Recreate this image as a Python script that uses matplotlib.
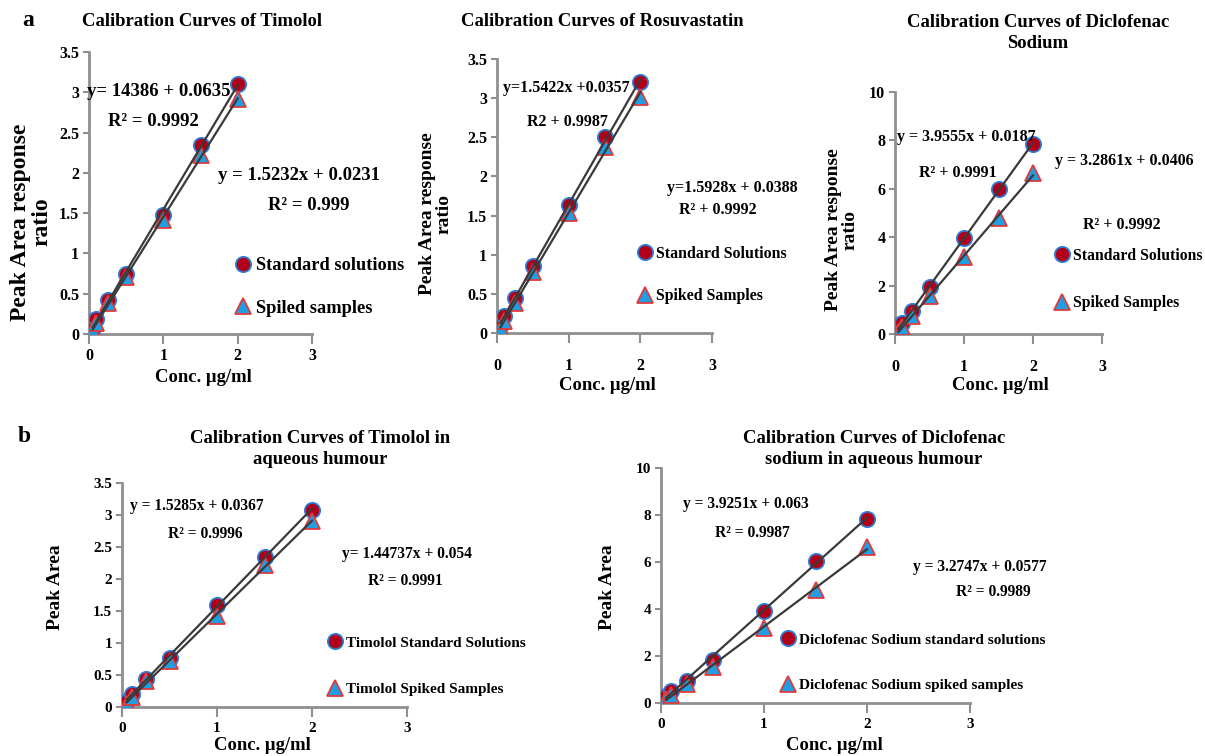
import matplotlib
matplotlib.use("Agg")
import matplotlib.pyplot as plt
import numpy as np

plt.rcParams['font.family'] = ['Liberation Serif', 'DejaVu Serif']
plt.rcParams['font.weight'] = 'bold'

# concentrations (ug/ml) shared by all curves
conc = [0.05, 0.1, 0.25, 0.5, 1, 1.5, 2]

# panel a - peak area response ratio
tim_std = [0.08, 0.18, 0.42, 0.75, 1.48, 2.35, 3.1]
tim_spk = [0.04, 0.14, 0.38, 0.71, 1.41, 2.22, 2.92]
ros_std = [0.1, 0.22, 0.45, 0.85, 1.63, 2.5, 3.2]
ros_spk = [0.05, 0.15, 0.38, 0.78, 1.53, 2.38, 3.02]
dic_std = [0.2, 0.45, 0.95, 1.95, 3.95, 6.0, 7.85]
dic_spk = [0.1, 0.3, 0.75, 1.55, 3.2, 4.8, 6.65]

# panel b - aqueous humour
aq_tim_std = [0.1, 0.2, 0.43, 0.77, 1.6, 2.35, 3.08]
aq_tim_spk = [0.05, 0.15, 0.4, 0.72, 1.42, 2.22, 2.9]
aq_dic_std = [0.3, 0.5, 0.95, 1.85, 3.9, 6.05, 7.85]
aq_dic_spk = [0.15, 0.35, 0.8, 1.55, 3.2, 4.8, 6.65]

W, H = 1205, 756
fig = plt.figure(figsize=(W / 100, H / 100), dpi=100)
fig.patch.set_facecolor('white')

GREY = '#8f8f8f'


def box(l, t, r, b):
    return [l / W, 1 - b / H, (r - l) / W, (b - t) / H]


def ftxt(x, y, s, size, ha='left', **kw):
    fig.text(x / W, 1 - y / H, s, fontsize=size, ha=ha, va='center',
             fontweight='bold', **kw)


def draw_panel(rect, std, spk, ymax, ystep, tsize, xpad, leg, labels):
    ax = fig.add_axes(box(*rect))
    # trendlines (least squares, as in the spreadsheet)
    xs = np.array([conc[0], conc[-1]])
    for ys in (std, spk):
        k, b = np.polyfit(conc, ys, 1)
        ax.plot(xs, k * xs + b, color='#3a3a3a', lw=1.6, zorder=4)
    h1, = ax.plot(conc, std, 'o', ms=11, mfc='#b0001a', mec='#2f7fd8',
                  mew=1.3, ls='none', zorder=3)
    h2, = ax.plot(conc, spk, '^', ms=11, mfc='#1f9ee3', mec='#e23a3a',
                  mew=1.3, ls='none', zorder=3)
    ax.set_xlim(0, 3)
    ax.set_ylim(0, ymax)
    ax.set_xticks([0, 1, 2, 3])
    ax.set_yticks(np.arange(0, ymax + 0.001, ystep))
    ax.yaxis.set_major_formatter(matplotlib.ticker.FormatStrFormatter('%g'))
    for s in ('top', 'right'):
        ax.spines[s].set_visible(False)
    for s in ('left', 'bottom'):
        ax.spines[s].set_color(GREY)
        ax.spines[s].set_linewidth(2)
    ax.tick_params(axis='y', length=4, width=1.5, color=GREY, pad=3,
                   labelsize=tsize)
    ax.tick_params(axis='x', length=7, width=1.5, color=GREY, pad=xpad,
                   labelsize=tsize)
    for t in ax.get_xticklabels() + ax.get_yticklabels():
        t.set_fontweight('bold')
    ax.patch.set_alpha(0)
    # legend on the right of each plot
    mx, y1, y2, fs = leg
    em = fs * 100 / 72
    ax.legend([h1, h2], labels, loc='center left',
              bbox_to_anchor=((mx - 0.4 * em) / W, 1 - (y1 + y2) / 2 / H),
              bbox_transform=fig.transFigure, frameon=False,
              handlelength=0.8, handletextpad=0.3, borderpad=0,
              borderaxespad=0,
              labelspacing=(y2 - y1) / em - 1.25,
              prop={'size': fs, 'weight': 'bold'})
    return ax


# ---- row a ----
draw_panel((89, 52, 312, 334), tim_std, tim_spk, 3.5, 0.5, 11.5, 3,
           (243, 263, 311, 13.2), ['Standard solutions', 'Spiled samples'])
draw_panel((497, 59, 712, 333), ros_std, ros_spk, 3.5, 0.5, 11.5, 11,
           (645, 252, 298, 11.4), ['Standard Solutions', 'Spiked Samples'])
draw_panel((895, 92, 1102, 334), dic_std, dic_spk, 10, 2, 11.5, 11,
           (1062, 254, 305, 11.3), ['Standard Solutions', 'Spiked Samples'])

# ---- row b ----
draw_panel((122, 483, 407, 707), aq_tim_std, aq_tim_spk, 3.5, 0.5, 11, 4,
           (335, 640, 692, 11), ['Timolol Standard Solutions', 'Timolol Spiked Samples'])
draw_panel((661, 468, 970, 703), aq_dic_std, aq_dic_spk, 10, 2, 11, 4,
           (788, 637, 688, 11),
           ['Diclofenac Sodium standard solutions', 'Diclofenac Sodium spiked samples'])

# panel letters
ftxt(22, 20, 'a', 17)
ftxt(18, 437, 'b', 17)

# titles
ftxt(202, 22, 'Calibration Curves of Timolol', 13.4, ha='center')
ftxt(602, 21, 'Calibration Curves of Rosuvastatin', 13.4, ha='center')
ftxt(1038, 33, 'Calibration Curves of Diclofenac\nSodium', 13.4, ha='center',
     linespacing=1.3)
ftxt(320, 449, 'Calibration Curves of Timolol in\naqueous humour', 13.4,
     ha='center', linespacing=1.3)
ftxt(874, 449, 'Calibration Curves of Diclofenac\nsodium in aqueous humour', 13.4,
     ha='center', linespacing=1.3)

# axis labels
ftxt(31, 222, 'Peak Area response\nratio', 17, ha='center', rotation=90,
     linespacing=1.0)
ftxt(436, 214, 'Peak Area response\nratio', 14, ha='center', rotation=90,
     linespacing=0.95)
ftxt(842, 230, 'Peak Area response\nratio', 14, ha='center', rotation=90,
     linespacing=0.95)
ftxt(55, 587, 'Peak Area', 14, ha='center', rotation=90)
ftxt(608, 587, 'Peak Area', 14, ha='center', rotation=90)

ftxt(203, 378, 'Conc. µg/ml', 13.4, ha='center')
ftxt(607, 386, 'Conc. µg/ml', 13.4, ha='center')
ftxt(1000, 386, 'Conc. µg/ml', 13.4, ha='center')
ftxt(262, 746, 'Conc. µg/ml', 13.4, ha='center')
ftxt(834, 746, 'Conc. µg/ml', 13.4, ha='center')

# regression equations as printed on the chart
ftxt(87, 92, 'y= 14386 + 0.0635', 13.5)
ftxt(108, 122, 'R² = 0.9992', 13.5)
ftxt(218, 175, 'y = 1.5232x + 0.0231', 13.5)
ftxt(268, 205, 'R² = 0.999', 13.5)

ftxt(503, 88, 'y=1.5422x +0.0357', 11.5)
ftxt(527, 122, 'R2 + 0.9987', 11.5)
ftxt(667, 188, 'y=1.5928x + 0.0388', 11.5)
ftxt(679, 210, 'R² + 0.9992', 11.5)

ftxt(897, 137, 'y = 3.9555x + 0.0187', 11.5)
ftxt(919, 173, 'R² + 0.9991', 11.5)
ftxt(1055, 161, 'y = 3.2861x + 0.0406', 11.5)
ftxt(1083, 225, 'R² + 0.9992', 11.5)

ftxt(130, 506, 'y = 1.5285x + 0.0367', 11.2)
ftxt(168, 534, 'R² = 0.9996', 11.2)
ftxt(342, 554, 'y= 1.44737x + 0.054', 11.2)
ftxt(368, 581, 'R² = 0.9991', 11.2)

ftxt(683, 504, 'y = 3.9251x + 0.063', 11.2)
ftxt(715, 533, 'R² = 0.9987', 11.2)
ftxt(913, 567, 'y = 3.2747x + 0.0577', 11.2)
ftxt(956, 592, 'R² = 0.9989', 11.2)

fig.savefig('out.png', dpi=100)
